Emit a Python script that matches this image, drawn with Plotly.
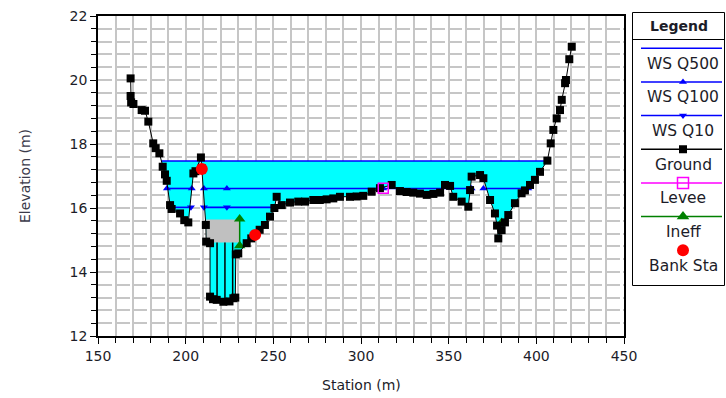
import plotly.graph_objects as go

W, H = 726, 398
FONT = "DejaVu Sans"
TXT = "#1c1c28"

# Surveyed ground profile (station m, elevation m)
ground_sta = [168.6, 168.6, 168.9, 170.2, 174.9, 176.8, 178.7, 181.5, 182.9, 185.0,
              186.9, 188.2, 189.2, 191.1, 192.0, 196.8, 199.2, 201.5, 204.4, 205.6,
              208.7, 209.2, 211.5, 211.7, 213.9, 213.9, 215.6, 217.7, 221.5, 225.0,
              227.2, 228.3, 228.6, 230.0, 234.8, 237.4, 239.6, 242.2, 245.2, 248.1,
              250.6, 251.9, 254.8, 259.5, 264.2, 268.1, 272.8, 276.5, 280.4, 284.2,
              288.0, 293.7, 297.5, 301.3, 306.1, 310.8, 317.5, 322.2, 326.0, 329.8,
              333.6, 337.5, 341.3, 345.1, 347.9, 350.8, 352.6, 357.4, 361.2, 362.2,
              363.1, 367.9, 369.8, 373.6, 376.4, 377.6, 378.3, 380.2, 382.1, 384.0,
              387.8, 391.6, 393.5, 396.4, 399.2, 402.1, 406.3, 408.2, 409.7, 411.6,
              413.5, 414.5, 416.4, 416.9, 418.8, 420.2]
ground_elev = [20.05, 19.50, 19.30, 19.25, 19.06, 19.04, 18.70, 18.02, 17.87, 17.71,
               17.29, 17.05, 16.85, 16.09, 15.97, 15.83, 15.62, 15.55, 17.08, 17.15,
               17.58, 17.24, 15.47, 14.95, 14.90, 13.23, 13.15, 13.13, 13.07, 13.08,
               13.18, 13.20, 14.55, 14.58, 14.90, 15.05, 15.16, 15.32, 15.47, 15.73,
               16.00, 16.35, 16.09, 16.17, 16.20, 16.20, 16.25, 16.25, 16.27, 16.30,
               16.35, 16.35, 16.36, 16.38, 16.51, 16.62, 16.72, 16.53, 16.50, 16.48,
               16.45, 16.41, 16.44, 16.48, 16.72, 16.69, 16.35, 16.20, 16.04, 16.56,
               16.98, 17.03, 16.93, 16.25, 15.83, 15.45, 15.05, 15.31, 15.55, 15.78,
               16.15, 16.46, 16.55, 16.72, 16.88, 17.13, 17.48, 18.02, 18.44, 18.80,
               19.06, 19.38, 19.90, 20.00, 20.65, 21.04]

# Water surface elevations per profile
ws_q500 = 17.47
ws_q100 = 16.61
ws_q10 = 16.02

# Stations of plotted water-surface points (None = dry break)
q100_sta = [189.3, 203.5, None, 210.4, 223.5, 312.7, 363.1, None, 369.8, 395.4]
q10_sta = [191.7, 203.0, None, 210.4, 223.5, 250.5]

# Levee, ineffective flow and bank stations
levee_sta = [312.7]
levee_elev = [16.62]
ineff_sta = [230.8, 230.8, None, 380.2]
ineff_elev = [15.66, 14.82, None, 15.55]
bank_sta = [209.2, 239.6]
bank_elev = [17.22, 15.16]

# Blocked area in the left overbank and the culvert barrel walls beneath it
block_sta = [211.7, 230.8]
block_elev = [14.92, 15.64]
barrel_sta = [217.9, 222.4, 226.8]
barrel_floor = [13.13, 13.08, 13.18]

BLUE = "#0000ff"
CYAN = "#00ffff"
MAGENTA = "#ff00ff"
GREEN = "#008000"
RED = "#ff0000"
GRID = "#c6c6c6"


def crossings(sta, elev, level):
    out = []
    for i in range(len(sta) - 1):
        a, b = elev[i] - level, elev[i + 1] - level
        if a * b < 0:
            t = a / (a - b)
            out.append(sta[i] + t * (sta[i + 1] - sta[i]))
    return out


cx = crossings(ground_sta, ground_elev, ws_q500)
x_left, x_right = cx[0], cx[-1]

# Wetted area of the highest profile: water surface on top, ground beneath
fill_x = [x_left]
fill_y = [ws_q500]
for s, e in zip(ground_sta, ground_elev):
    if x_left < s < x_right:
        fill_x.append(s)
        fill_y.append(min(e, ws_q500))
fill_x += [x_right, x_left]
fill_y += [ws_q500, ws_q500]

fig = go.Figure()

fig.add_trace(go.Scatter(x=fill_x, y=fill_y, mode="lines", fill="toself",
                         fillcolor=CYAN, line=dict(width=0), hoverinfo="skip",
                         showlegend=False))

bx = [block_sta[0], block_sta[1], block_sta[1], block_sta[0], block_sta[0]]
by = [block_elev[0], block_elev[0], block_elev[1], block_elev[1], block_elev[0]]
fig.add_trace(go.Scatter(x=bx, y=by, mode="lines", fill="toself",
                         fillcolor="#c0c0c0", line=dict(width=0),
                         hoverinfo="skip", showlegend=False))

wx, wy = [], []
for s, f in zip(barrel_sta, barrel_floor):
    wx += [s, s, None]
    wy += [f, block_elev[0], None]
fig.add_trace(go.Scatter(x=wx, y=wy, mode="lines",
                         line=dict(color="black", width=1.5), showlegend=False))

fig.add_trace(go.Scatter(x=[x_left, x_right], y=[ws_q500, ws_q500], mode="lines",
                         line=dict(color=BLUE, width=1.6), name="WS Q500",
                         showlegend=False))
fig.add_trace(go.Scatter(x=q100_sta, y=[None if s is None else ws_q100 for s in q100_sta],
                         mode="lines+markers", line=dict(color=BLUE, width=1.6),
                         marker=dict(symbol="triangle-up", size=7, color=BLUE),
                         name="WS Q100", showlegend=False))
fig.add_trace(go.Scatter(x=q10_sta, y=[None if s is None else ws_q10 for s in q10_sta],
                         mode="lines+markers", line=dict(color=BLUE, width=1.6),
                         marker=dict(symbol="triangle-down", size=7, color=BLUE),
                         name="WS Q10", showlegend=False))
fig.add_trace(go.Scatter(x=ineff_sta, y=ineff_elev, mode="lines+markers",
                         line=dict(color=GREEN, width=1.5),
                         marker=dict(symbol="triangle-up", size=10, color=GREEN),
                         name="Ineff", showlegend=False))
fig.add_trace(go.Scatter(x=ground_sta, y=ground_elev, mode="lines+markers",
                         line=dict(color="black", width=1),
                         marker=dict(symbol="square", size=8, color="black"),
                         name="Ground", showlegend=False))
fig.add_trace(go.Scatter(x=levee_sta, y=levee_elev, mode="markers",
                         marker=dict(symbol="square-open", size=10, color=MAGENTA,
                                     line=dict(width=1.5)),
                         name="Levee", showlegend=False))
fig.add_trace(go.Scatter(x=bank_sta, y=bank_elev, mode="markers",
                         marker=dict(symbol="circle", size=12, color=RED),
                         name="Bank Sta", showlegend=False))

# ---- legend panel, drawn on its own pixel-scaled axes ----
LX0, LX1, LY0, LY1 = 632.5, 724.5, 12.5, 285.5
legend_rows = [
    ("WS Q500", BLUE, None, 0),
    ("WS Q100", BLUE, "triangle-up", 7),
    ("WS Q10", BLUE, "triangle-down", 7),
    ("Ground", "black", "square", 8),
    ("Levee", MAGENTA, "square-open", 11),
    ("Ineff", GREEN, "triangle-up", 11),
    ("Bank Sta", None, "circle", 12),
]
shapes = [
    dict(type="rect", xref="x2", yref="y2", x0=LX0, x1=LX1, y0=LY0, y1=LY1,
         line=dict(color="black", width=1), fillcolor="white", layer="below"),
    dict(type="line", xref="x2", yref="y2", x0=LX0, x1=LX1, y0=39.5, y1=39.5,
         line=dict(color="black", width=1)),
]
annotations = [
    dict(x=679, y=25.5, xref="x2", yref="y2", text="<b>Legend</b>", showarrow=False,
         xanchor="center", yanchor="middle",
         font=dict(family=FONT, size=14, color=TXT)),
]
for i, (label, color, sym, size) in enumerate(legend_rows):
    sy = 48.3 + 33.65 * i
    if color is not None:
        shapes.append(dict(type="line", xref="x2", yref="y2", x0=641, x1=722,
                           y0=sy, y1=sy, line=dict(color=color, width=1.5)))
    if sym is not None:
        mcol = color if color is not None else RED
        mk = dict(symbol=sym, size=size, color=mcol)
        if sym == "square-open":
            mk["line"] = dict(width=1.5, color=mcol)
        fig.add_trace(go.Scatter(x=[683], y=[sy], mode="markers", marker=mk,
                                 xaxis="x2", yaxis="y2", showlegend=False,
                                 hoverinfo="skip"))
    annotations.append(dict(x=683, y=sy + 15.5, xref="x2", yref="y2", text=label,
                            showarrow=False, xanchor="center", yanchor="middle",
                            font=dict(family=FONT, size=15.5, color=TXT)))

# axis titles
annotations.append(dict(x=361 / W, y=1 - 385 / H, xref="paper", yref="paper",
                        text="Station (m)", showarrow=False,
                        xanchor="center", yanchor="middle",
                        font=dict(family=FONT, size=14, color=TXT)))
annotations.append(dict(x=25 / W, y=1 - 176 / H, xref="paper", yref="paper",
                        text="Elevation (m)", textangle=-90, showarrow=False,
                        xanchor="center", yanchor="middle",
                        font=dict(family=FONT, size=14, color="#3a3a4a")))

tickfont = dict(family=FONT, size=14, color=TXT)
fig.update_layout(
    template="none",
    width=W, height=H, autosize=False,
    margin=dict(l=0, r=0, t=0, b=0),
    paper_bgcolor="white", plot_bgcolor="rgba(0,0,0,0)",
    showlegend=False,
    shapes=shapes, annotations=annotations,
    xaxis=dict(domain=[98 / W, 624 / W], range=[150, 450], automargin=False,
               tick0=150, dtick=50, ticks="outside", ticklen=6, tickwidth=1,
               tickcolor="black", tickfont=tickfont,
               showline=True, linecolor="black", linewidth=1.5, mirror=True,
               showgrid=True, gridcolor=GRID, gridwidth=1.5, zeroline=False,
               minor=dict(dtick=10, ticks="outside", ticklen=5, tickcolor="black",
                          showgrid=True, gridcolor=GRID, gridwidth=1.5)),
    yaxis=dict(domain=[1 - 336 / H, 1 - 16 / H], range=[12, 22], automargin=False,
               tick0=12, dtick=2, ticks="outside", ticklen=6, tickwidth=1,
               tickcolor="black", tickfont=tickfont,
               showline=True, linecolor="black", linewidth=1.5, mirror=True,
               showgrid=True, gridcolor=GRID, gridwidth=1.5, griddash="14px,3.5px",
               zeroline=False,
               minor=dict(dtick=0.4, ticks="outside", ticklen=5, tickcolor="black",
                          showgrid=True, gridcolor=GRID, gridwidth=1.5,
                          griddash="14px,3.5px")),
    xaxis2=dict(domain=[630 / W, 1.0], range=[630, 726], visible=False,
                automargin=False, fixedrange=True),
    yaxis2=dict(domain=[0, 1], range=[398, 0], visible=False, automargin=False,
                fixedrange=True, anchor="x2"),
)
fig.update_traces(selector=dict(xaxis="x2"), cliponaxis=False)

fig.write_html("out.html")
